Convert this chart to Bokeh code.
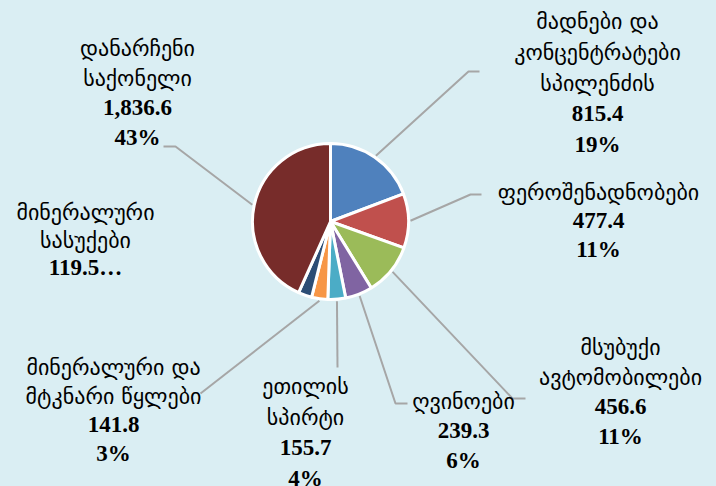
import math
from bokeh.plotting import figure
from bokeh.models import Range1d, GlobalInlineStyleSheet
from bokeh.core.properties import value
from bokeh.embed import file_html
from bokeh.resources import INLINE

# ---- data ----
categories = [
    "მადნები და\nკონცენტრატები\nსპილენძის",
    "ფეროშენადნობები",
    "მსუბუქი\nავტომობილები",
    "ღვინოები",
    "ეთილის\nსპირტი",
    "მინერალური და\nმტკნარი წყლები",
    "მინერალური\nსასუქები",
    "დანარჩენი\nსაქონელი",
]
values = [815.4, 477.4, 456.6, 239.3, 155.7, 141.8, 119.5, 1836.6]
truncated = [False, False, False, False, False, False, True, False]
colors = ["#4F81BD", "#C0504D", "#9BBB59", "#8064A2", "#4BACC6",
          "#F79646", "#2C4D75", "#772C2A"]

# ---- layout (reference pixel coordinates) ----
BG = "#DAEEF3"
W, H = 716, 486
def X(x): return x
def Y(y): return H - y

CX, CY, R = 330, 221, 78
label_anchor = [(597, 21, 31), (598, 192, 29), (620, 347, 30), (463, 401, 30),
                (305, 386, 31), (113, 367, 29), (85, 212, 28), (137, 48, 30)]
leader_pts = [[(468, 71), (479, 71)], [(470, 194), (481, 194)],
              [(512, 398), (525, 398)], [(395, 403), (407, 403)],
              [(337, 367)], [(200, 393)], None, [(175, 146), (163, 146)]]

GEO_FONT = value("DejaVu Sans")
NUM_FONT = value("Liberation Serif")

p = figure(width=W, height=H, x_range=Range1d(0, W), y_range=Range1d(0, H),
           output_backend="svg", toolbar_location=None, min_border=0,
           background_fill_color=BG, border_fill_color=BG)
p.axis.visible = False
p.grid.visible = False
p.outline_line_color = None
p.stylesheets = [GlobalInlineStyleSheet(css="body{background:%s;}" % BG)]

total = sum(values)
cum = 0.0
for i, v in enumerate(values):
    f0 = cum / total
    f1 = (cum + v) / total
    cum += v
    a_start = math.pi / 2 - 2 * math.pi * f1
    a_end = math.pi / 2 - 2 * math.pi * f0
    p.wedge(x=X(CX), y=Y(CY), radius=R, start_angle=a_start, end_angle=a_end,
            fill_color=colors[i], line_color="white", line_width=3)

    # leader line
    if leader_pts[i] is not None:
        fm = (f0 + f1) / 2
        ang = 2 * math.pi * fm
        sx = CX + (R + 2) * math.sin(ang)
        sy = CY - (R + 2) * math.cos(ang)
        xs = [X(sx)] + [X(q[0]) for q in leader_pts[i]]
        ys = [Y(sy)] + [Y(q[1]) for q in leader_pts[i]]
        p.line(xs, ys, line_color="#A6A6A6", line_width=2)

    # label
    geo = categories[i].split("\n")
    if truncated[i]:
        nums = [f"{v:,.1f}\u2026"]
    else:
        nums = [f"{v:,.1f}", f"{round(v / total * 100)}%"]
    ax, ay, sp = label_anchor[i]
    ng = len(geo)
    p.text(x=[X(ax)] * ng, y=[Y(ay + k * sp) for k in range(ng)],
           text=geo, text_align="center", text_baseline="middle",
           text_font=GEO_FONT, text_font_size="22px", text_color="#000000")
    p.text(x=[X(ax)] * len(nums),
           y=[Y(ay + (ng + k) * sp) + 1 for k in range(len(nums))],
           text=nums, text_align="center", text_baseline="middle",
           text_font=NUM_FONT, text_font_size="23px", text_font_style="bold",
           text_color="#000000")

open("out.html", "w").write(file_html(p, INLINE))
